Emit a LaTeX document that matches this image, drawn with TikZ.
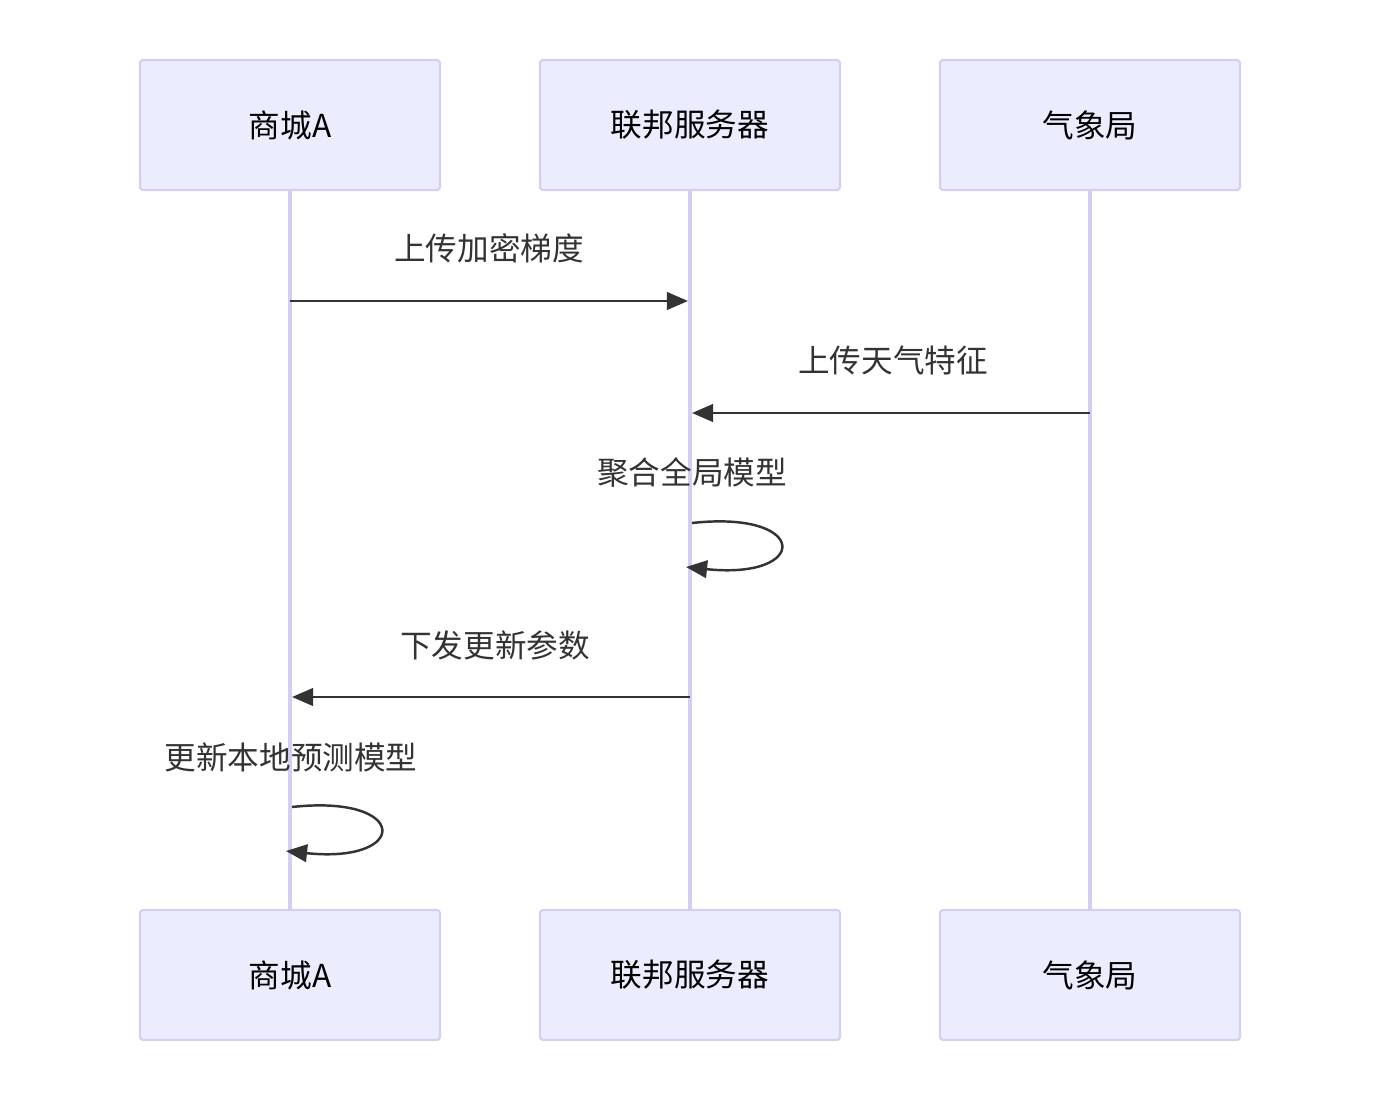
\documentclass[tikz,border=0pt]{standalone}
\usepackage{fontspec}
\setmainfont{Noto Sans CJK SC}
\usetikzlibrary{arrows.meta}
\definecolor{actfill}{HTML}{ECECFF}
\definecolor{actline}{HTML}{D6CEF2}
\definecolor{msgtext}{HTML}{333333}
\tikzset{
  actor/.style={draw=actline, fill=actfill, line width=1.2pt, rounded corners=1.7pt,
    minimum width=6cm, minimum height=2.6cm, text=black, font=\fontsize{18}{20}\selectfont},
  lifeline/.style={draw=actline, line width=1.8pt},
  msg/.style={draw=msgtext, line width=1.4pt, -{Triangle[length=12pt,width=10pt]}},
  msglabel/.style={text=msgtext, font=\fontsize{18}{20}\selectfont}
}
\begin{document}
\begin{tikzpicture}[x=0.02cm, y=-0.02cm]
\useasboundingbox (0,0) rectangle (1380,1102);

% Participantes
\node[actor] (mallT) at (290,125) {商城A};
\node[actor] (fedT) at (690,125) {联邦服务器};
\node[actor] (metT) at (1090,125) {气象局};
\node[actor] (mallB) at (290,975) {商城A};
\node[actor] (fedB) at (690,975) {联邦服务器};
\node[actor] (metB) at (1090,975) {气象局};

% Líneas de vida
\draw[lifeline] (mallT.south) -- (mallB.north);
\draw[lifeline] (fedT.south) -- (fedB.north);
\draw[lifeline] (metT.south) -- (metB.north);

% Mensajes
\coordinate (m1a) at (290,301);
\coordinate (m1b) at (688,301);
\draw[msg] (m1a) -- (m1b);
\node[msglabel] (l1) at (489,248) {上传加密梯度};

\coordinate (m2a) at (1090,413);
\coordinate (m2b) at (692,413);
\draw[msg] (m2a) -- (m2b);
\node[msglabel] (l2) at (893,360) {上传天气特征};

% Auto-mensaje del servidor
\node[msglabel] (l3) at (692,472) {聚合全局模型};
\coordinate (s1a) at (692,523);
\coordinate (s1b) at (686,567);
\draw[msg] (s1a) .. controls (810,510) and (810,580) .. (s1b);

\coordinate (m3a) at (690,697);
\coordinate (m3b) at (292,697);
\draw[msg] (m3a) -- (m3b);
\node[msglabel] (l4) at (495,645) {下发更新参数};

% Auto-mensaje del comercio
\node[msglabel] (l5) at (291,757) {更新本地预测模型};
\coordinate (s2a) at (292,807);
\coordinate (s2b) at (286,851);
\draw[msg] (s2a) .. controls (410,794) and (410,864) .. (s2b);
\end{tikzpicture}
\end{document}
